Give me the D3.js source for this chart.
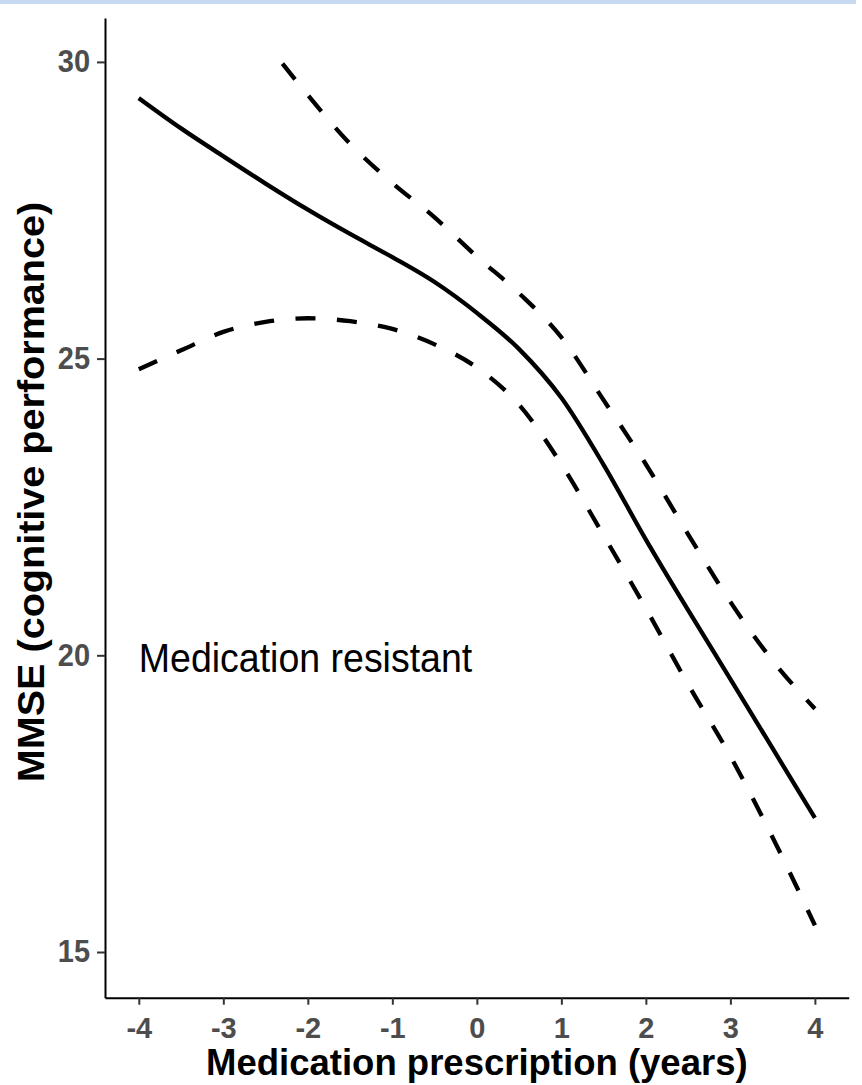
<!DOCTYPE html>
<html>
<head>
<meta charset="utf-8">
<script src="https://cdn.jsdelivr.net/npm/d3@7"></script>
<style>
  html, body { margin: 0; padding: 0; background: #ffffff; }
  svg { display: block; }
</style>
</head>
<body>
<script>
// ---- data ----
const xGrid = [-4, -3.5, -3, -2.5, -2, -1.5, -1, -0.5, 0, 0.5, 1, 1.5, 2, 2.5, 3, 3.5, 4];
const fitValues = [29.39, 28.88, 28.41, 27.95, 27.51, 27.10, 26.71, 26.29, 25.77, 25.16, 24.34, 23.21, 21.95, 20.76, 19.60, 18.43, 17.26];
const lowerValues = [24.82, 25.14, 25.45, 25.62, 25.68, 25.63, 25.50, 25.24, 24.85, 24.22, 23.22, 22.02, 20.79, 19.51, 18.30, 16.93, 15.45];
const upperX = [-2.3, -2, -1.5, -1, -0.5, 0, 0.5, 1, 1.5, 2, 2.5, 3, 3.5, 4];
const upperValues = [29.97, 29.44, 28.62, 27.96, 27.38, 26.72, 26.10, 25.36, 24.30, 23.22, 22.04, 20.90, 19.91, 19.10];
const xTicks = [-4, -3, -2, -1, 0, 1, 2, 3, 4];
const yTicks = [15, 20, 25, 30];
const xLabel = "Medication prescription (years)";
const yLabel = "MMSE (cognitive performance)";
const annotationText = "Medication resistant";
const annotationPos = [-4, 20];

// ---- layout ----
const W = 862, H = 1085;
const FONT = "'Liberation Sans', Arial, Helvetica, sans-serif";

const svg = d3.select("body").append("svg")
  .attr("width", W).attr("height", H);

// light blue band at the top of the picture
svg.append("rect").attr("x", 0).attr("y", 0).attr("width", 856).attr("height", 4)
  .attr("fill", "#c6d9f0");

const x = d3.scaleLinear().domain([-4.4, 4.4]).range([105, 848.7]);
const y = d3.scaleLinear().domain([14.23, 30.74]).range([997.7, 18]);

// axes
const xAxis = svg.append("g")
  .attr("transform", `translate(0,${y.range()[0]})`)
  .call(d3.axisBottom(x).tickValues(xTicks).tickSize(7).tickSizeOuter(0).tickPadding(13)
    .tickFormat(d => String(d)));
const yAxis = svg.append("g")
  .attr("transform", `translate(${x.range()[0]},0)`)
  .call(d3.axisLeft(y).tickValues(yTicks).tickSize(8).tickSizeOuter(0).tickPadding(7));

[xAxis, yAxis].forEach(g => {
  g.select(".domain").attr("stroke", "#000").attr("stroke-width", 2);
  g.selectAll(".tick line").attr("stroke", "#333").attr("stroke-width", 2);
  g.selectAll(".tick text")
    .attr("fill", "#4d4d4d")
    .attr("font-family", FONT)
    .attr("font-weight", "bold")
    .attr("font-size", 29);
});
yAxis.selectAll(".tick text").attr("transform", "scale(1,1.07)");

// lines
const line = d3.line().x(d => x(d[0])).y(d => y(d[1])).curve(d3.curveMonotoneX);

const fit = xGrid.map((v, i) => [v, fitValues[i]]);
const lower = xGrid.map((v, i) => [v, lowerValues[i]]);
const upper = upperX.map((v, i) => [v, upperValues[i]]);

svg.append("path").datum(fit).attr("d", line)
  .attr("fill", "none").attr("stroke", "#000").attr("stroke-width", 4.3);
[lower, upper].forEach(dat => {
  svg.append("path").datum(dat).attr("d", line)
    .attr("fill", "none").attr("stroke", "#000").attr("stroke-width", 4.3)
    .attr("stroke-dasharray", "20,21.5");
});

// annotation
svg.append("text")
  .attr("transform", `translate(${x(annotationPos[0])},${y(annotationPos[1]) + 16.5}) scale(1,1.07)`)
  .attr("font-family", FONT)
  .attr("font-size", 37.5)
  .attr("fill", "#000")
  .text(annotationText);

// axis titles
svg.append("text")
  .attr("x", (x.range()[0] + x.range()[1]) / 2)
  .attr("y", 1075)
  .attr("text-anchor", "middle")
  .attr("font-family", FONT)
  .attr("font-weight", "bold")
  .attr("font-size", 36.5)
  .attr("fill", "#000")
  .text(xLabel);

svg.append("text")
  .attr("transform", `translate(44,492) scale(1,1.07) rotate(-90)`)
  .attr("text-anchor", "middle")
  .attr("font-family", FONT)
  .attr("font-weight", "bold")
  .attr("font-size", 37)
  .attr("fill", "#000")
  .text(yLabel);
</script>
</body>
</html>
